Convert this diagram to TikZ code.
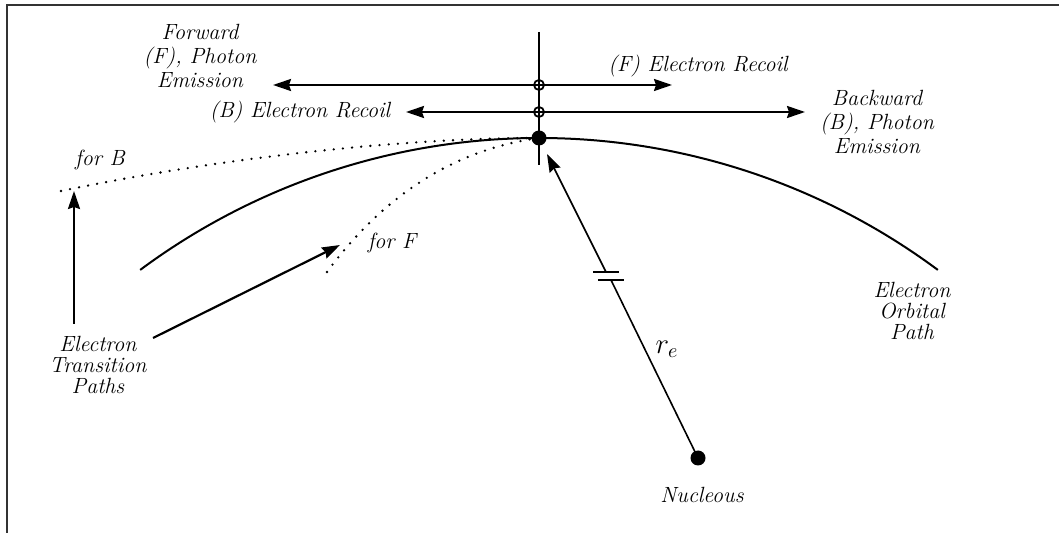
\documentclass[tikz,border=0pt]{standalone}
\usetikzlibrary{arrows.meta, calc}

\begin{document}
\begin{tikzpicture}[
    x=0.5pt, y=0.5pt,
    >={Stealth[length=9pt, width=6pt, inset=1pt]},
    % Italic text labels
    lbl/.style={
        font=\fontsize{11}{12.2}\selectfont\itshape, align=center, inner sep=1pt
    },
    lbltight/.style={
        font=\fontsize{11}{10.6}\selectfont\itshape, align=center, inner sep=1pt
    },
    % Particles
    particle/.style={
        circle, fill=black, minimum size=7.5pt, inner sep=0pt
    },
    crossing/.style={
        circle, draw, line width=0.9pt, minimum size=5pt, inner sep=0pt
    },
    % Lines
    mainline/.style={line width=1.1pt},
    thinline/.style={line width=0.8pt},
    dotpath/.style={line width=1.3pt, line cap=round, dash pattern=on 0pt off 4.6pt}
]
    \useasboundingbox (0,0) rectangle (1059,-533);

    % =========================================================================
    % Frame (top and left edges only)
    % =========================================================================
    \draw[line width=1pt, black!80] (1059,-5) -- (7,-5) -- (7,-533);

    % =========================================================================
    % Electron, crossings and nucleus
    % =========================================================================
    \coordinate (vTop) at (539,-32);
    \coordinate (vBot) at (539,-165);
    \draw[mainline] (vTop) -- (vBot);

    \node[crossing] (fO) at (539,-85) {};
    \node[crossing] (bO) at (539,-112) {};

    \node[particle] (nuc) at (698,-458) {};

    % =========================================================================
    % Labels
    % =========================================================================
    \node[lbl] (fwdPh) at (200,-56) {Forward\\(F), Photon\\Emission};
    \node[lbl] (bwdPh) at (877,-122) {Backward\\(B), Photon\\Emission};
    \node[lbl] (fRec) at (698,-66) {(F) Electron Recoil};
    \node[lbl] (bRec) at (300,-112) {(B) Electron Recoil};
    \node[lbl] (forB) at (100,-160) {for B};
    \node[lbl] (forF) at (392,-243) {for F};
    \node[lbltight] (trans) at (98,-365) {Electron\\Transition\\Paths};
    \node[lbltight] (orbit) at (912,-311) {Electron\\Orbital\\Path};
    \node[lbl] (nucLbl) at (702,-495) {Nucleous};
    \node[font=\fontsize{14}{16}\selectfont, inner sep=1pt] (reLbl) at (667,-349) {$r_e$};

    % =========================================================================
    % Photon emission and recoil arrows
    % =========================================================================
    \coordinate (fPhTip) at (273,-85);
    \coordinate (fRecTip) at (672,-85);
    \coordinate (bRecTip) at (406,-112);
    \coordinate (bPhTip) at (805,-112);

    \draw[->, mainline] (fO.center) -- (fPhTip);
    \draw[->, mainline] (fO.center) -- (fRecTip);
    \draw[->, mainline] (bO.center) -- (bRecTip);
    \draw[->, mainline] (bO.center) -- (bPhTip);

    % =========================================================================
    % Orbital path and transition paths
    % =========================================================================
    \coordinate (eTop) at (539,-138);
    \draw[line width=1pt] (eTop) arc[start angle=90, end angle=126.6, radius=334.5pt];
    \draw[line width=1pt] (eTop) arc[start angle=90, end angle=53.4, radius=334.5pt];

    \coordinate (bStart) at (61,-191);
    \coordinate (fStart) at (327,-272);
    \draw[dotpath] (bStart) .. controls (220,-158) and (400,-138) .. (eTop);
    \draw[dotpath] (fStart) .. controls (380,-200) and (450,-150) .. (eTop);

    \node[particle] (eDot) at (eTop) {};

    \coordinate (tVert) at (74,-324);
    \coordinate (tDiag) at (153,-338);
    \coordinate (fTip) at (340,-245);
    \draw[->, mainline] (tVert) -- (tVert |- bStart);
    \draw[->, mainline] (tDiag) -- (fTip);

    % =========================================================================
    % Radius r_e with break mark
    % =========================================================================
    \coordinate (brkLo) at (611,-280);
    \coordinate (brkHi) at (606,-272);
    \draw[thinline] (nuc.center) -- (brkLo);
    \draw[thinline, ->, shorten >=5pt] (brkHi) -- (eDot);
    \draw[thinline] ($(brkLo)+(-13,0)$) -- ($(brkLo)+(13,0)$);
    \draw[thinline] ($(brkHi)+(-13,0)$) -- ($(brkHi)+(13,0)$);

\end{tikzpicture}
\end{document}
